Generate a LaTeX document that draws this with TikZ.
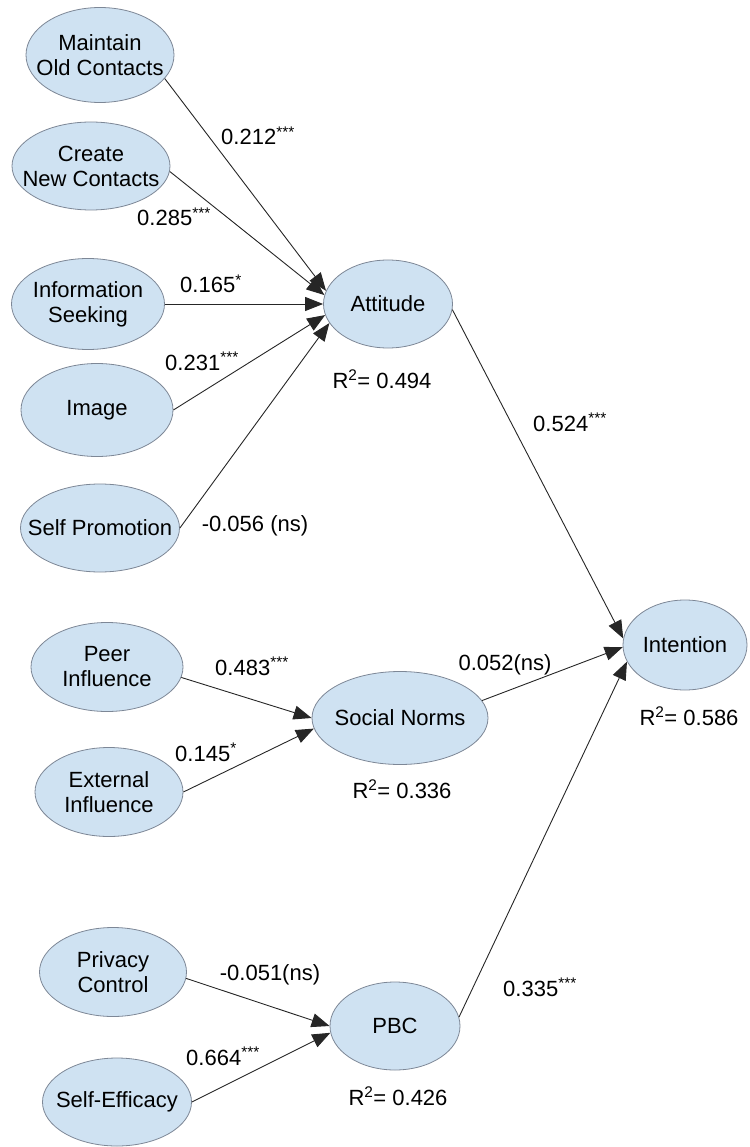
\documentclass[tikz,border=0pt]{standalone}
\usepackage{fontspec}
\setmainfont{Liberation Sans}
\usetikzlibrary{shapes.geometric,arrows.meta}
\definecolor{lvfill}{RGB}{207,226,242}
\definecolor{lvdraw}{RGB}{125,135,150}
\begin{document}
\begin{tikzpicture}[x=1pt,y=-1pt,
  lv/.style={ellipse, draw=lvdraw, fill=lvfill, line width=0.8pt, inner sep=0pt},
  lt/.style={font=\fontsize{22}{25}\selectfont, align=center, inner sep=0pt},
  lab/.style={font=\fontsize{22}{25}\selectfont, inner sep=0pt, anchor=base},
  arr/.style={draw=black!85, line width=0.9pt, -{Triangle[length=18pt,width=14pt]}}]
\useasboundingbox (0,0) rectangle (749,1147);
% latent variables
\node[lv, minimum width=148pt, minimum height=95pt, label={[lt]center:{Maintain\\Old Contacts}}] (moc) at (100,55) {};
\node[lv, minimum width=158pt, minimum height=88pt, label={[lt]center:{Create\\New Contacts}}] (cnc) at (91,166) {};
\node[lv, minimum width=153pt, minimum height=91pt, label={[lt]center:{Information\\Seeking}}] (isk) at (88,304) {};
\node[lv, minimum width=152pt, minimum height=93pt, label={[lt]center:{Image}}] (img) at (97,410) {};
\node[lv, minimum width=159pt, minimum height=88pt, label={[lt]center:{Self Promotion}}] (spr) at (100,528) {};
\node[lv, minimum width=129pt, minimum height=88pt, label={[lt]center:{Attitude}}] (att) at (388,304) {};
\node[lv, minimum width=152pt, minimum height=89pt, label={[lt]center:{Peer\\Influence}}] (pin) at (107,667) {};
\node[lv, minimum width=148pt, minimum height=89pt, label={[lt]center:{External\\Influence}}] (ein) at (109,792) {};
\node[lv, minimum width=176pt, minimum height=93pt, label={[lt]center:{Social Norms}}] (sn) at (400,718) {};
\node[lv, minimum width=124pt, minimum height=90pt, label={[lt]center:{Intention}}] (int) at (685,645) {};
\node[lv, minimum width=147pt, minimum height=89pt, label={[lt]center:{Privacy\\Control}}] (prc) at (113,972) {};
\node[lv, minimum width=149pt, minimum height=88pt, label={[lt]center:{Self-Efficacy}}] (sef) at (117,1102) {};
\node[lv, minimum width=130pt, minimum height=88pt, label={[lt]center:{PBC}}] (pbc) at (395,1026) {};
% paths
\draw[arr] (moc.-20) -- (att.168);
\draw[arr] (cnc.-4) -- (att.172);
\draw[arr] (isk.east) -- (att.west);
\draw[arr] (img.east) -- (att.190);
\draw[arr] (spr.east) -- (att.198);
\draw[arr] (att.-5) -- (int.174);
\draw[arr] (pin.-8) -- (sn.180);
\draw[arr] (ein.east) -- (sn.187);
\draw[arr] (sn.12) -- (int.182);
\draw[arr] (prc.-5) -- (pbc.180);
\draw[arr] (sef.east) -- (pbc.186);
\draw[arr] (pbc.8) -- (int.196);
% coefficients
\node[lab] (c1) at (258,145) {0.212\textsuperscript{***}};
\node[lab] (c2) at (174,226) {0.285\textsuperscript{***}};
\node[lab] (c3) at (211,293) {0.165\textsuperscript{*}};
\node[lab] (c4) at (202,370) {0.231\textsuperscript{***}};
\node[lab] (c5) at (255,531) {-0.056 (ns)};
\node[lab] (c6) at (570,431) {0.524\textsuperscript{***}};
\node[lab] (c7) at (252,675) {0.483\textsuperscript{***}};
\node[lab] (c8) at (206,761) {0.145\textsuperscript{*}};
\node[lab] (c9) at (505,670) {0.052(ns)};
\node[lab] (c10) at (270,980) {-0.051(ns)};
\node[lab] (c11) at (223,1065) {0.664\textsuperscript{***}};
\node[lab] (c12) at (540,996) {0.335\textsuperscript{***}};
% R squared
\node[lab] (r1) at (382,388) {R\textsuperscript{2}= 0.494};
\node[lab] (r2) at (402,798) {R\textsuperscript{2}= 0.336};
\node[lab] (r3) at (689,725) {R\textsuperscript{2}= 0.586};
\node[lab] (r4) at (398,1105) {R\textsuperscript{2}= 0.426};
\end{tikzpicture}
\end{document}
